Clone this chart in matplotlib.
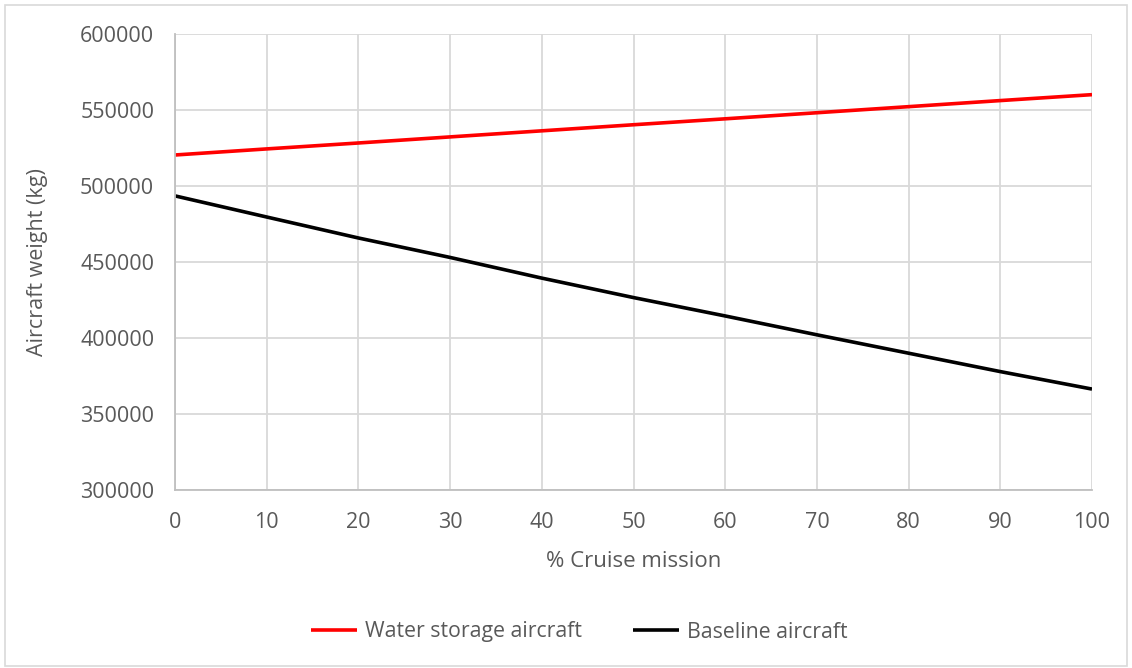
import matplotlib
matplotlib.use("Agg")
import matplotlib.pyplot as plt
from matplotlib.patches import Rectangle

plt.rcParams['font.family'] = ['Open Sans', 'DejaVu Sans']

cruise_pct = [0, 10, 20, 30, 40, 50, 60, 70, 80, 90, 100]
water_storage = [520400, 524400, 528300, 532300, 536300, 540300, 544200, 548200, 552200, 556200, 560100]
baseline = [493500, 479600, 465800, 453000, 439400, 426600, 414500, 402100, 390000, 377900, 366400]

txt = '#595959'
grid_c = '#d9d9d9'

fig = plt.figure(figsize=(11.32, 6.68), dpi=100)
# outer chart border
fig.patches.append(Rectangle((5 / 1132, 2 / 668), 1122 / 1132, 661 / 668,
                             transform=fig.transFigure, fill=False,
                             edgecolor=grid_c, linewidth=1.2))

ax = fig.add_axes([175 / 1132, 1 - 490 / 668, 917 / 1132, 456 / 668])
ax.plot(cruise_pct, water_storage, color='#ff0000', lw=2.6, label='Water storage aircraft',
        solid_capstyle='butt')
ax.plot(cruise_pct, baseline, color='#000000', lw=2.6, label='Baseline aircraft',
        solid_capstyle='butt')

ax.set_xlim(0, 100)
ax.set_ylim(300000, 600000)
ax.set_xticks(range(0, 101, 10))
ax.set_yticks(range(300000, 600001, 50000))
ax.grid(True, color=grid_c, lw=1.3)
ax.set_axisbelow(True)
for s in ['top', 'right']:
    ax.spines[s].set_visible(False)
for s in ['left', 'bottom']:
    ax.spines[s].set_color('#bfbfbf')
    ax.spines[s].set_linewidth(1.3)
ax.tick_params(length=0, labelsize=15.5, colors=txt)
ax.tick_params(axis='y', pad=15)
ax.tick_params(axis='x', pad=16)

ax.set_xlabel('% Cruise mission', fontsize=16, color=txt, labelpad=13)
ax.set_ylabel('Aircraft weight (kg)', fontsize=15.5, color=txt, labelpad=23)

fig.legend(loc='center', bbox_to_anchor=(579 / 1132, 1 - 632 / 668), ncol=2,
           frameon=False, fontsize=15.3, labelcolor=txt, handlelength=2.2,
           handletextpad=0.35, columnspacing=2.4)

fig.savefig('out.png', dpi=100)
